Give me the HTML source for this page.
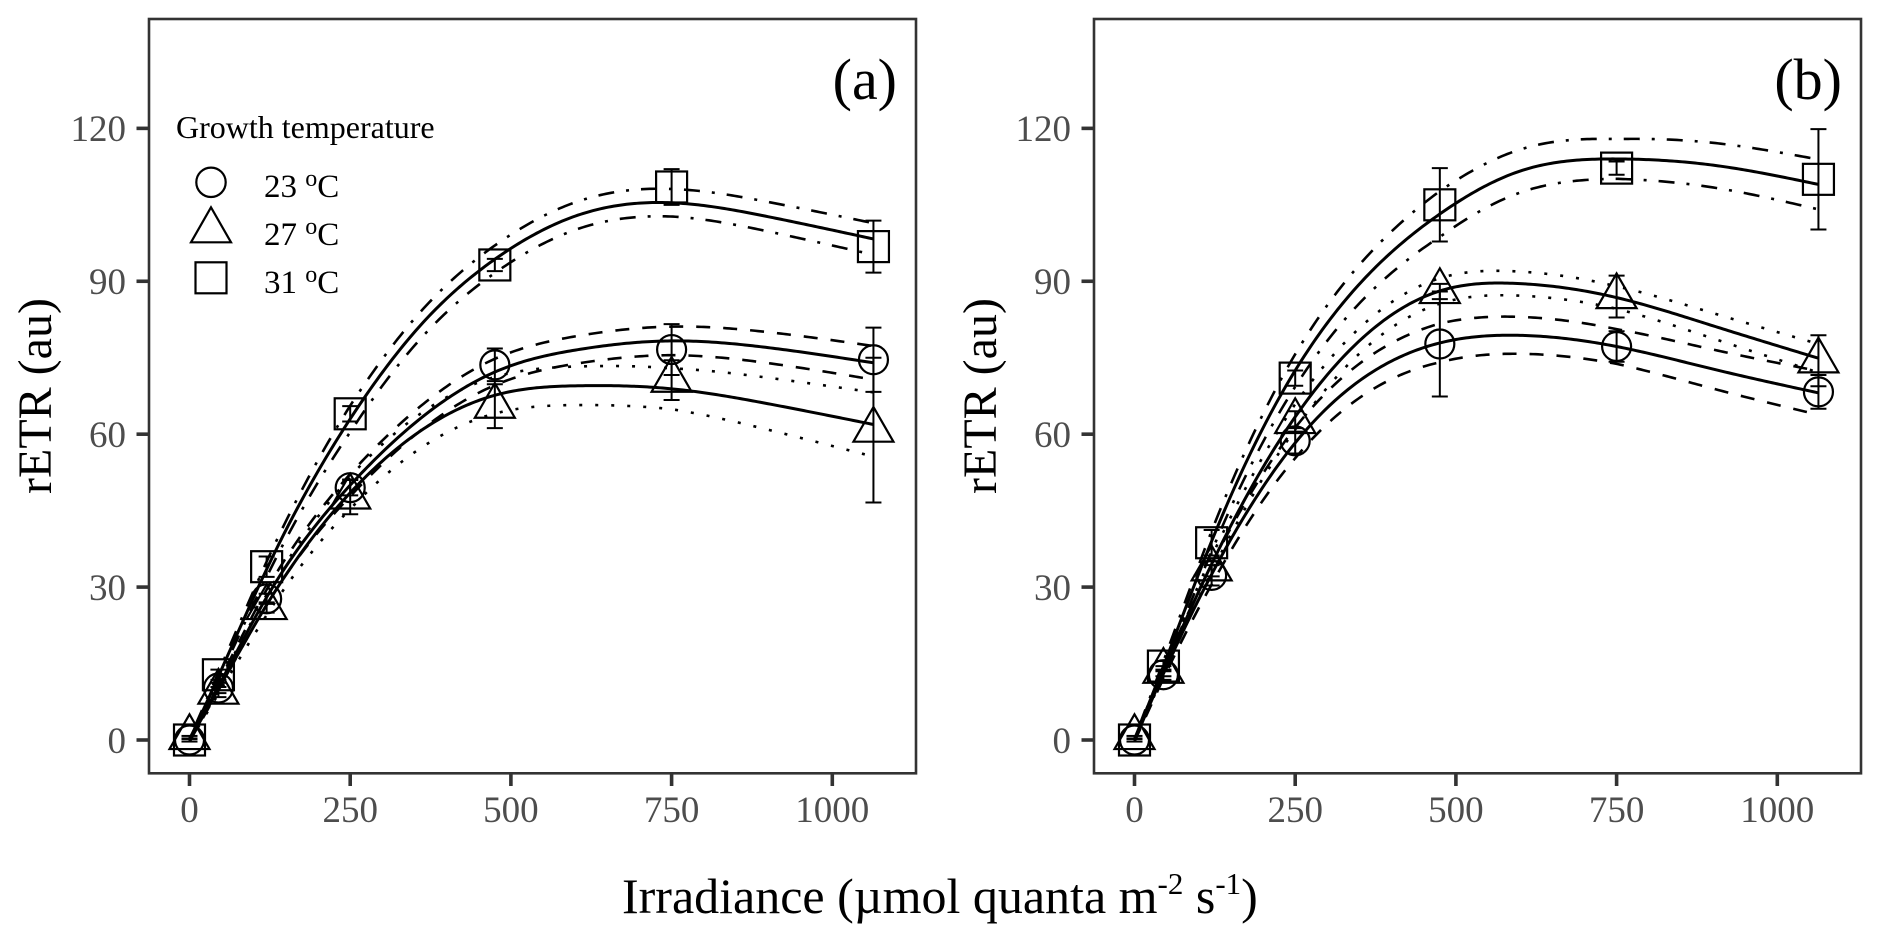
<!DOCTYPE html>
<html>
<head>
<meta charset="utf-8">
<style>
html,body{margin:0;padding:0;background:#fff;}
svg{display:block;}
</style>
</head>
<body>
<svg id="s" width="1880" height="943" viewBox="0 0 1880 943" xmlns="http://www.w3.org/2000/svg" font-family="'Liberation Serif', 'Times New Roman', serif">
<rect width="1880" height="943" fill="#fff"/>
<g id="plots"></g>

<!-- Panel a y tick labels -->
<g font-size="37" fill="#4d4d4d" text-anchor="end">
<text x="126" y="141">120</text>
<text x="126" y="294">90</text>
<text x="126" y="447">60</text>
<text x="126" y="600">30</text>
<text x="126" y="753">0</text>
</g>
<!-- Panel b y tick labels -->
<g font-size="37" fill="#4d4d4d" text-anchor="end">
<text x="1071" y="141">120</text>
<text x="1071" y="294">90</text>
<text x="1071" y="447">60</text>
<text x="1071" y="600">30</text>
<text x="1071" y="753">0</text>
</g>
<!-- Panel a x tick labels -->
<g font-size="37" fill="#4d4d4d" text-anchor="middle">
<text x="189.5" y="822">0</text>
<text x="350.2" y="822">250</text>
<text x="510.9" y="822">500</text>
<text x="671.6" y="822">750</text>
<text x="832.3" y="822">1000</text>
</g>
<!-- Panel b x tick labels -->
<g font-size="37" fill="#4d4d4d" text-anchor="middle">
<text x="1134.5" y="822">0</text>
<text x="1295.2" y="822">250</text>
<text x="1455.9" y="822">500</text>
<text x="1616.6" y="822">750</text>
<text x="1777.3" y="822">1000</text>
</g>

<!-- Y axis titles -->
<text transform="translate(51,396) rotate(-90)" text-anchor="middle" font-size="48" fill="#000">rETR (au)</text>
<text transform="translate(996,396) rotate(-90)" text-anchor="middle" font-size="48" fill="#000">rETR (au)</text>

<!-- Panel labels -->
<text x="897" y="99" text-anchor="end" font-size="58" fill="#000">(a)</text>
<text x="1842" y="99" text-anchor="end" font-size="58" fill="#000">(b)</text>

<!-- Legend -->
<text x="176" y="138" font-size="32" fill="#000">Growth temperature</text>
<text x="264" y="197" font-size="33" fill="#000">23 <tspan font-size="24" dy="-11">o</tspan><tspan dy="11">C</tspan></text>
<text x="264" y="245" font-size="33" fill="#000">27 <tspan font-size="24" dy="-11">o</tspan><tspan dy="11">C</tspan></text>
<text x="264" y="293" font-size="33" fill="#000">31 <tspan font-size="24" dy="-11">o</tspan><tspan dy="11">C</tspan></text>
<g fill="none" stroke="#000" stroke-width="2.2">
<circle cx="211" cy="182.3" r="14.7"/>
<polygon points="211,207.3 191,242.3 231,242.3"/>
<rect x="195.5" y="262.3" width="31" height="31"/>
</g>

<!-- X axis title -->
<text x="622" y="913" font-size="50" fill="#000">Irradiance (µmol quanta m<tspan font-size="31" dy="-19">-2</tspan><tspan dy="19"> s</tspan><tspan font-size="31" dy="-19">-1</tspan><tspan dy="19">)</tspan></text>
</svg>

<script>
(function(){
var NS="http://www.w3.org/2000/svg";
var g=document.getElementById('plots');
function el(tag, attrs){var e=document.createElementNS(NS,tag);for(var k in attrs)e.setAttribute(k,attrs[k]);g.appendChild(e);return e;}
function Y(v){return 740-5.097*v;}
function spline(pts){
  var n=pts.length,xs=[],ys=[],i;
  for(i=0;i<n;i++){xs.push(pts[i][0]);ys.push(pts[i][1]);}
  var h=[],al=[],l=[1],mu=[0],z=[0],c=[],b=[],d=[];
  for(i=0;i<n;i++)c.push(0);
  for(i=0;i<n-1;i++)h[i]=xs[i+1]-xs[i];
  for(i=1;i<n-1;i++)al[i]=3/h[i]*(ys[i+1]-ys[i])-3/h[i-1]*(ys[i]-ys[i-1]);
  for(i=1;i<n-1;i++){l[i]=2*(xs[i+1]-xs[i-1])-h[i-1]*mu[i-1];mu[i]=h[i]/l[i];z[i]=(al[i]-h[i-1]*z[i-1])/l[i];}
  c[n-1]=0;
  for(var j=n-2;j>=0;j--){c[j]=z[j]-mu[j]*c[j+1];b[j]=(ys[j+1]-ys[j])/h[j]-h[j]*(c[j+1]+2*c[j])/3;d[j]=(c[j+1]-c[j])/(3*h[j]);}
  return function(x){var k=0;while(k<n-2&&x>xs[k+1])k++;var dx=x-xs[k];return ys[k]+b[k]*dx+c[k]*dx*dx+d[k]*dx*dx*dx;};
}
function lin(pts,x){
  for(var i=0;i<pts.length-1;i++){if(x<=pts[i+1][0]){var t=(x-pts[i][0])/(pts[i+1][0]-pts[i][0]);return pts[i][1]+t*(pts[i+1][1]-pts[i][1]);}}
  return pts[pts.length-1][1];
}
var DASH={dashed:"14 13",dotted:"3 13",dotdash:"3 12 16 12"};

var panels=[
 {x0:189.5,left:149,right:916,
  series:[
   {m:'sq',style:'dotdash',
    curve:[[0,0],[45,12.5],[120,33.5],[250,63],[364,82],[477,94.5],[605,103],[750,105.4],[899,102.7],[1064,98.3]],
    w:[[0,0.3],[120,1.5],[250,2.6],[477,2.7],[750,2.7],[1064,3.1]],
    pts:[[0,0,0.3],[45,12.8,1],[120,34,2],[250,64,1.5],[475,93.2,1.2],[750,108.5,3.5],[1064,96.8,5.1]]},
   {m:'ci',style:'dashed',
    curve:[[0,0],[45,10.5],[120,28],[250,50],[477,72.3],[605,76.6],[750,78.3],[899,77],[1064,74]],
    w:[[0,0.3],[120,1.5],[250,2.2],[477,2.6],[750,2.8],[1064,3.3]],
    pts:[[0,0,0.3],[45,10.2,1],[120,27.7,1],[250,49.5,1.5],[475,73.6,3.2],[750,76.6,5],[1064,74.6,6.3]]},
   {m:'tr',style:'dotted',
    curve:[[0,0],[45,10],[120,26.5],[250,48.5],[477,67.7],[605,69.5],[750,68.9],[899,66],[1064,61.9]],
    w:[[0,0.3],[120,2],[250,3.2],[477,3.6],[750,4],[1064,6.3]],
    pts:[[0,0.5,0.3],[45,9.4,1],[120,26,1],[250,47.7,3.4],[475,65.5,4.3],[750,70.6,3.9],[1064,60.8,14.2]]}
  ]},
 {x0:1134.5,left:1094,right:1861,
  series:[
   {m:'sq',style:'dotdash',
    curve:[[0,0],[45,14.5],[120,39],[250,72.5],[475,103.2],[597,111.5],[750,114],[899,112.8],[1064,109]],
    w:[[0,0.3],[120,2],[250,3.2],[475,4.5],[750,3.9],[1064,4.9]],
    pts:[[0,0,0.3],[45,14.5,1],[120,38.7,2.5],[250,71,1.5],[475,105,7.2],[750,112.2,1.3],[1064,110,9.85]]},
   {m:'tr',style:'dotted',
    curve:[[0,0],[45,13.5],[120,34.5],[250,63.4],[475,88.1],[589,89.6],[750,86.8],[899,81.3],[1064,74.9]],
    w:[[0,0.3],[120,1.5],[250,2.5],[475,2.5],[750,2.2],[1064,2.8]],
    pts:[[0,0.5,0.3],[45,13.5,1],[120,33.6,1.5],[250,62.5,2],[475,88,1.5],[750,87,4.1],[1064,74.4,5]]},
   {m:'ci',style:'dashed',
    curve:[[0,0],[45,13],[120,32.5],[250,58.3],[475,77.9],[597,79.4],[750,77.2],[899,72.8],[1064,68.1]],
    w:[[0,0.3],[120,2],[250,3],[475,3.8],[750,3.4],[1064,4.3]],
    pts:[[0,0,0.3],[45,12.8,1],[120,32.3,2],[250,58.7,2.5],[475,77.7,10.3],[750,77.2,3],[1064,68.3,3.3]]}
  ]}
];

panels.forEach(function(p){
  function X(v){return p.x0+0.6428*v;}
  el('rect',{x:p.left,y:19,width:p.right-p.left,height:754.3,fill:'none',stroke:'#333',"stroke-width":2.6});
  [0,30,60,90,120].forEach(function(v){el('line',{x1:p.left-12.5,x2:p.left,y1:Y(v),y2:Y(v),stroke:'#333',"stroke-width":3.6});});
  [0,250,500,750,1000].forEach(function(v){el('line',{x1:X(v),x2:X(v),y1:773.3,y2:786,stroke:'#333',"stroke-width":3.6});});
  p.series.forEach(function(s){
    var f=spline(s.curve);
    var up="",lo="",so="";
    for(var x=0;x<=1064;x+=4){
      var v=f(x),w=lin(s.w,x);
      var px=X(x).toFixed(2);
      so+=(x===0?"M":"L")+px+","+Y(v).toFixed(2);
      up+=(x===0?"M":"L")+px+","+Y(v+w).toFixed(2);
      lo+=(x===0?"M":"L")+px+","+Y(v-w).toFixed(2);
    }
    el('path',{d:up,fill:'none',stroke:'#000',"stroke-width":2.6,"stroke-dasharray":DASH[s.style]});
    el('path',{d:lo,fill:'none',stroke:'#000',"stroke-width":2.6,"stroke-dasharray":DASH[s.style]});
    el('path',{d:so,fill:'none',stroke:'#000',"stroke-width":3});
    s.pts.forEach(function(q){
      var cx=X(q[0]),cy=Y(q[1]),e=q[2];
      var y1=Y(q[1]+e),y2=Y(q[1]-e);
      el('line',{x1:cx,x2:cx,y1:y1,y2:y2,stroke:'#000',"stroke-width":2});
      el('line',{x1:cx-8,x2:cx+8,y1:y1,y2:y1,stroke:'#000',"stroke-width":2});
      el('line',{x1:cx-8,x2:cx+8,y1:y2,y2:y2,stroke:'#000',"stroke-width":2});
      if(s.m==='ci'){el('circle',{cx:cx,cy:cy,r:14.5,fill:'none',stroke:'#000',"stroke-width":2.2});}
      else if(s.m==='sq'){el('rect',{x:cx-15.5,y:cy-15.5,width:31,height:31,fill:'none',stroke:'#000',"stroke-width":2.2});}
      else {el('polygon',{points:cx+","+(cy-23.1)+" "+(cx-20)+","+(cy+11.6)+" "+(cx+20)+","+(cy+11.6),fill:'none',stroke:'#000',"stroke-width":2.2});}
    });
  });
});
})();
</script>
</body>
</html>
